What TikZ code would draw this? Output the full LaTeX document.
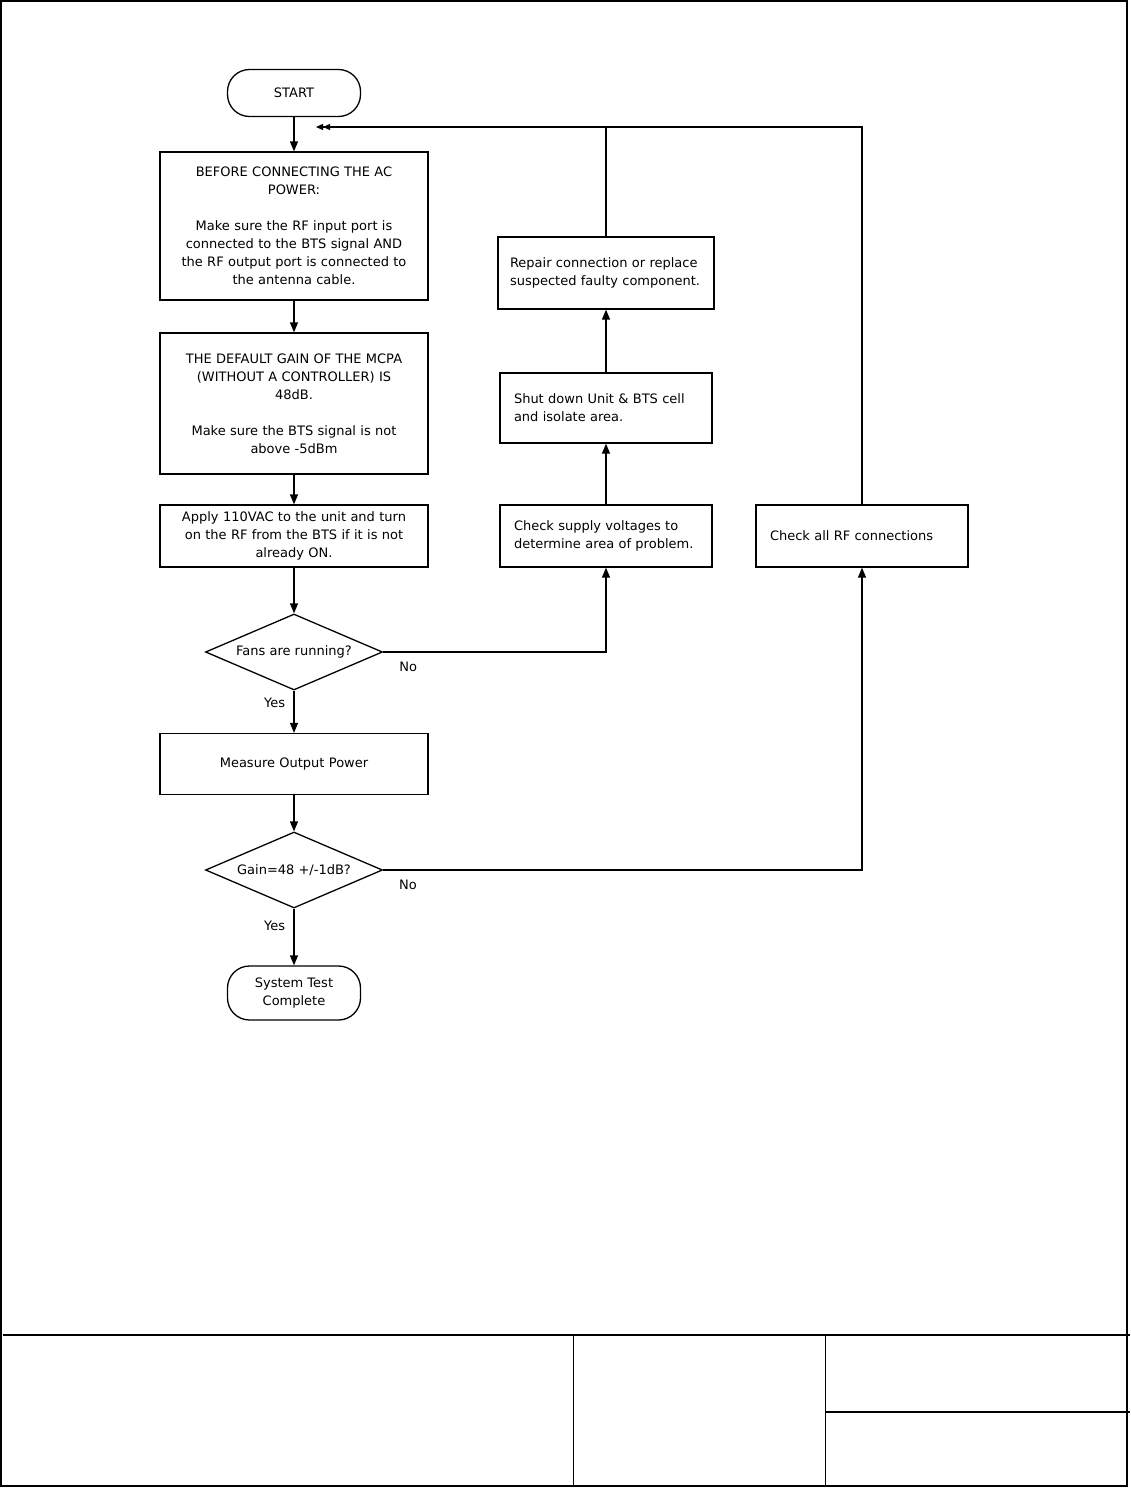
\documentclass[tikz,border=0pt]{standalone}
\usepackage{fontspec}
\setmainfont{DejaVu Sans}
\usetikzlibrary{shapes.geometric, arrows.meta}
\newcommand{\flowfont}{\fontsize{13pt}{18pt}\selectfont}
\tikzstyle{general} = [rectangle, minimum width=268pt, text width=252pt, inner xsep=8pt, align=center, draw=black, line width=1.3pt, font=\flowfont]
\tikzstyle{task} = [rectangle, minimum width=212pt, minimum height=62pt, text width=184pt, inner xsep=14pt, align=left, draw=black, line width=1.3pt, font=\flowfont]
\tikzstyle{decision} = [diamond, aspect=2.3, minimum width=177pt, minimum height=76pt, inner sep=0pt, text centered, draw=black, line width=1.3pt, font=\flowfont]
\tikzstyle{terminal} = [rectangle, rounded corners=22pt, minimum width=133pt, minimum height=47pt, align=center, draw=black, line width=1.3pt, font=\flowfont]
\tikzstyle{answer} = [font=\flowfont]
\tikzstyle{arrow} = [line width=1.3pt, ->, >={Triangle[length=10pt,width=8pt]}]
\tikzstyle{dblarrow} = [line width=1.3pt, ->>, >={Triangle[length=7pt,width=6pt]}]
\tikzstyle{frame} = [line width=2pt]

\begin{document}
\begin{tikzpicture}
[node distance=120pt, x=1pt, y=-1pt]
\useasboundingbox (0,0) rectangle (1130,1488);

\node (start) [terminal] at (294,93) {START};
\node (before) [general, below of = start, yshift = -13pt, minimum height=148pt] {BEFORE CONNECTING THE AC\\POWER:\\[18pt]Make sure the RF input port is\\connected to the BTS signal AND\\the RF output port is connected to\\the antenna cable.};
\node (gaininfo) [general, below of = before, yshift = -57.5pt, minimum height=141pt] {THE DEFAULT GAIN OF THE MCPA\\(WITHOUT A CONTROLLER) IS\\48dB.\\[18pt]Make sure the BTS signal is not\\above -5dBm};
\node (apply) [general, below of = gaininfo, yshift = -12.5pt, minimum height=62pt] {Apply 110VAC to the unit and turn\\on the RF from the BTS if it is not\\already ON.};
\node (fans) [decision, below of = apply, yshift = 4pt] {Fans are running?};
\node (measure) [general, below of = fans, yshift = 8pt, minimum height=61pt] {Measure Output Power};
\node (gain) [decision, below of = measure, yshift = 14pt] {Gain=48 +/-1dB?};
\node (finish) [terminal, below of = gain, yshift = -3pt, minimum height=54pt] {System Test\\Complete};

\node (supply) [task, right of = apply, xshift = 192pt] {Check supply voltages to\\determine area of problem.};
\node (shutdown) [task, above of = supply, yshift = 8pt, minimum height=70pt] {Shut down Unit \& BTS cell\\and isolate area.};
\node (repair) [task, above of = shutdown, yshift = 15pt, minimum height=72pt, minimum width=216pt, text width=192pt, inner xsep=12pt] {Repair connection or replace\\suspected faulty component.};
\node (checkrf) [task, right of = supply, xshift = 136pt] {Check all RF connections};
\coordinate (merge) at (316,127);

\draw [arrow] (start) -- (before);
\draw [arrow] (before) -- (gaininfo);
\draw [arrow] (gaininfo) -- (apply);
\draw [arrow] (apply) -- (fans);
\draw [arrow] (fans) -- node[answer, left, pos=0.3, xshift=-5pt] {Yes} (measure);
\draw [arrow] (measure) -- (gain);
\draw [arrow] (gain) -- node[answer, left, pos=0.31, xshift=-5pt] {Yes} (finish);
\draw [arrow] (fans) -| node[answer, below, pos=0.056, yshift=-6pt] {No} (supply);
\draw [arrow] (gain) -| node[answer, below, pos=0.026, yshift=-6pt] {No} (checkrf);
\draw [arrow] (supply) -- (shutdown);
\draw [arrow] (shutdown) -- (repair);
\draw [dblarrow] (checkrf) |- (merge);
\draw [line width=1.3pt] (repair) -- (repair |- merge);

% page frame and title block
\draw [frame] (1,1) rectangle (1127,1486);
\draw [line width=1.6pt] (3,1335) -- (1130,1335);
\draw [line width=1pt] (573,1335) -- (573,1486);
\draw [line width=1pt] (825,1335) -- (825,1486);
\draw [line width=1.6pt] (825,1412) -- (1130,1412);

\end{tikzpicture}
\end{document}
